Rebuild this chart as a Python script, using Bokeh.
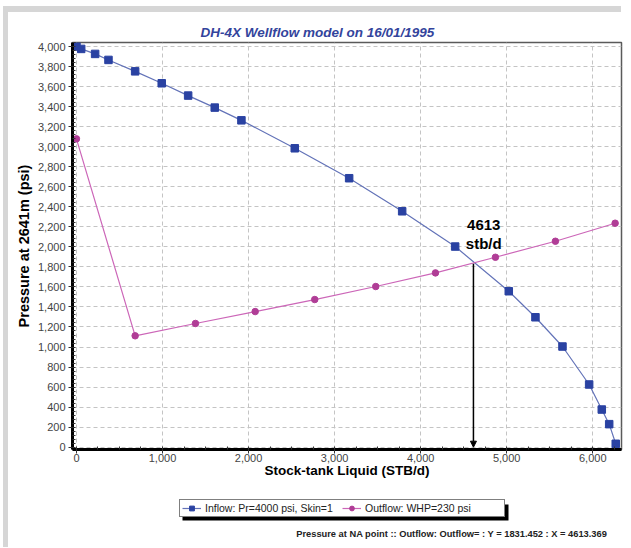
from bokeh.plotting import figure
from bokeh.layouts import column
from bokeh.models import (Label, Arrow, NormalHead, Legend, BoxAnnotation,
                          FixedTicker, NumeralTickFormatter, Range1d)
from bokeh.embed import file_html
from bokeh.resources import INLINE

# ---- data ----
inflow_q = [0, 55, 217, 372, 682, 991, 1298, 1607, 1917, 2537, 3169, 3785,
            4401, 5024, 5334, 5648, 5958, 6105, 6191, 6267]
inflow_p = [4000, 3976, 3926, 3866, 3752, 3633, 3510, 3390, 3263, 2984, 2685,
            2355, 2003, 1557, 1297, 1005, 626, 376, 230, 34]
outflow_q = [0, 682, 1383, 2077, 2769, 3478, 4172, 4869, 5566, 6260]
outflow_p = [3078, 1112, 1235, 1354, 1474, 1604, 1740, 1896, 2056, 2236]
x_ticks = [0, 1000, 2000, 3000, 4000, 5000, 6000]
y_ticks = list(range(0, 4001, 200))
op_q = 4613.369
op_p = 1831.452
title_text = "DH-4X Wellflow model on 16/01/1995"
inflow_label = "Inflow: Pr=4000 psi, Skin=1"
outflow_label = "Outflow: WHP=230 psi"
footer_text = "Pressure at NA point :: Outflow: Outflow= : Y = 1831.452 : X = 4613.369"

FONT = "Liberation Sans"
IN_LINE = "#6373b8"
IN_MARK = "#2a42a2"
OUT_LINE = "#cc66b8"
OUT_MARK = "#b03d96"
BAND = "#d6d6d6"
NAN = float("nan")

# ---------------- main chart ----------------
p = figure(frame_width=549, frame_height=407, output_backend="svg",
           toolbar_location=None,
           x_range=Range1d(-46, 6334), y_range=Range1d(-23, 4040),
           min_border_left=72, min_border_right=10, min_border_top=42,
           min_border_bottom=33, background_fill_color="white",
           border_fill_color=None, title=title_text)
p.outline_line_color = "#5a5a5a"
p.outline_line_width = 1.5

p.title.align = "left"
p.title.offset = 128
p.title.standoff = 5
p.title.text_font = FONT
p.title.text_font_size = "13.5px"
p.title.text_font_style = "bold italic"
p.title.text_color = "#33449c"

p.xaxis.ticker = FixedTicker(ticks=x_ticks, minor_ticks=list(range(0, 6400, 250)))
p.yaxis.ticker = FixedTicker(ticks=y_ticks, minor_ticks=list(range(0, 4041, 40)))
p.xaxis.formatter = NumeralTickFormatter(format="0,0")
p.yaxis.formatter = NumeralTickFormatter(format="0,0")
for ax in (p.xaxis, p.yaxis):
    ax.axis_line_width = 3
    ax.axis_line_color = "black"
    ax.major_tick_out = 4
    ax.major_tick_in = 0
    ax.minor_tick_in = 3
    ax.minor_tick_out = 0
    ax.major_tick_line_color = "#333333"
    ax.minor_tick_line_color = "#333333"
    ax.major_label_text_font = FONT
    ax.major_label_text_font_size = "11px"
    ax.major_label_text_color = "#444444"
    ax.axis_label_text_font = FONT
    ax.axis_label_text_font_style = "bold"
    ax.axis_label_text_color = "black"
p.xaxis.axis_label = "Stock-tank Liquid (STB/d)"
p.yaxis.axis_label = "Pressure at 2641m (psi)"
p.xaxis.axis_label_text_font_size = "13.5px"
p.yaxis.axis_label_text_font_size = "14.5px"
p.xaxis.major_label_standoff = 0
p.yaxis.major_label_standoff = 3
p.xaxis.axis_label_standoff = -2
p.yaxis.axis_label_standoff = 3

p.grid.grid_line_color = "#c4c4c4"
p.grid.grid_line_dash = "4 3"
p.grid.grid_line_width = 1

p.line(inflow_q, inflow_p, line_color=IN_LINE, line_width=1.2)
p.scatter(inflow_q, inflow_p, marker="square", size=7.5,
          fill_color=IN_MARK, line_color=IN_MARK)
p.line(outflow_q, outflow_p, line_color=OUT_LINE, line_width=1.2)
p.scatter(outflow_q, outflow_p, marker="circle", size=6.5,
          fill_color=OUT_MARK, line_color=OUT_MARK)

p.add_layout(Arrow(end=NormalHead(size=6, fill_color="black", line_color="black"),
                   x_start=op_q, y_start=op_p, x_end=op_q, y_end=0,
                   line_color="black", line_width=1.5))
p.add_layout(Label(x=op_q + 120, y=2217, text=f"{op_q:.0f}", text_align="center",
                   text_baseline="middle", text_font=FONT, text_font_size="15px",
                   text_font_style="bold", text_color="black"))
p.add_layout(Label(x=op_q + 120, y=2030, text="stb/d", text_align="center",
                   text_baseline="middle", text_font=FONT, text_font_size="15px",
                   text_font_style="bold", text_color="black"))

# ---------------- legend / footer strip ----------------
f2 = figure(width=631, height=66, output_backend="svg", toolbar_location=None,
            x_range=Range1d(0, 631), y_range=Range1d(0, 66),
            x_axis_location=None, y_axis_location=None,
            min_border=0, background_fill_color=None, border_fill_color=None)
f2.outline_line_color = None
f2.grid.visible = False
# legend proxies (no visible data, only for the legend swatches)
k1 = f2.line([NAN], [NAN], line_color=IN_LINE, line_width=1.2)
k2 = f2.scatter([NAN], [NAN], marker="square", size=7, fill_color=IN_MARK, line_color=IN_MARK)
k3 = f2.line([NAN], [NAN], line_color=OUT_LINE, line_width=1.2)
k4 = f2.scatter([NAN], [NAN], marker="circle", size=6, fill_color=OUT_MARK, line_color=OUT_MARK)

f2.add_layout(BoxAnnotation(left=110, right=436, bottom=28, top=44,
                            left_units="screen", right_units="screen",
                            bottom_units="screen", top_units="screen",
                            fill_color="black", fill_alpha=1, line_alpha=0))
legend = Legend(items=[(inflow_label, [k1, k2]), (outflow_label, [k3, k4])],
                orientation="horizontal", location=(107, 31),
                padding=2, margin=0, spacing=0, glyph_width=19, glyph_height=12,
                label_width=137, label_height=12, label_standoff=4,
                label_text_font=FONT, label_text_font_size="10.5px",
                label_text_color="#222222", border_line_color="black",
                border_line_width=1, background_fill_color="white",
                background_fill_alpha=1)
f2.add_layout(legend, "center")
f2.add_layout(Label(x=535, y=15, x_units="screen", y_units="screen",
                    text=footer_text, text_align="right", text_baseline="middle",
                    text_font=FONT, text_font_size="9.3px", text_font_style="bold",
                    text_color="#222222"))

layout = column(p, f2, spacing=0)
layout.styles = {
    "background": (f"linear-gradient({BAND},{BAND}) 3px 6px / 618px 6px no-repeat, "
                   f"linear-gradient({BAND},{BAND}) 3px 6px / 5px 541px no-repeat, white")
}

open("out.html", "w").write(file_html(layout, INLINE))
